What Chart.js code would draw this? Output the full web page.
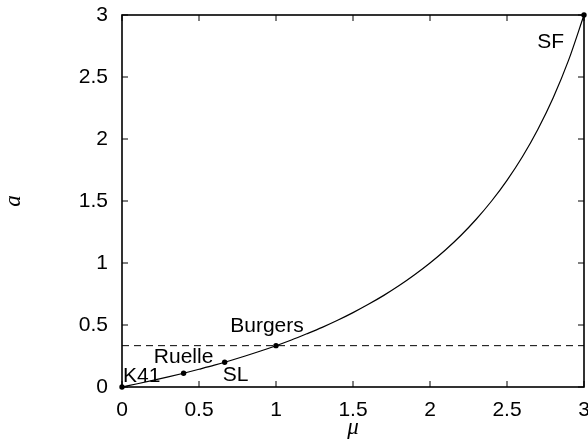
<!DOCTYPE html>
<html>
<head>
<meta charset="utf-8">
<script src="https://cdn.jsdelivr.net/npm/chart.js@4.4.1/dist/chart.umd.min.js"></script>
<style>
  html, body { margin: 0; padding: 0; background: #fff; }
  canvas { display: block; }
</style>
</head>
<body>
<canvas id="c" width="588" height="442"></canvas>
<script>
// Intermittency curve a(mu)
const muValues = [0, 0.1, 0.2, 0.3, 0.4, 0.5, 0.6, 0.7, 0.8, 0.9, 1.0,
                  1.1, 1.2, 1.3, 1.4, 1.5, 1.6, 1.7, 1.8, 1.9, 2.0,
                  2.1, 2.2, 2.3, 2.4, 2.5, 2.6, 2.7, 2.8, 2.9, 3.0];
const aValues = [0, 0.026, 0.053, 0.081, 0.111, 0.143, 0.176, 0.212, 0.25, 0.29, 0.333,
                 0.379, 0.429, 0.481, 0.538, 0.6, 0.667, 0.739, 0.818, 0.905, 1.0,
                 1.105, 1.222, 1.353, 1.5, 1.667, 1.857, 2.077, 2.333, 2.636, 3.0];

// Horizontal reference level (Burgers value)
const refLineMu = [0, 3];
const refLineA = [0.3333, 0.3333];

// Named models on the curve
const modelNames = ['K41', 'Ruelle', 'SL', 'Burgers', 'SF'];
const modelMu = [0, 0.4, 0.6667, 1, 3];
const modelA = [0, 0.1111, 0.2, 0.3333, 3];

// Axis tick labels
const tickValues = [0, 0.5, 1, 1.5, 2, 2.5, 3];
const tickLabels = ['0', '0.5', '1', '1.5', '2', '2.5', '3'];

const LABEL_FONT = '21px "Liberation Sans", Arial, sans-serif';

// Label placement relative to each marked point (pixels)
const labelStyle = {
  'K41':     { dx: 1,   dy: -5,  align: 'left' },
  'Ruelle':  { dx: 0,   dy: -10, align: 'center' },
  'SL':      { dx: -2,  dy: 19,  align: 'left' },
  'Burgers': { dx: -9,  dy: -14, align: 'center' },
  'SF':      { dx: -20, dy: 33,  align: 'right' }
};

const curveData = muValues.map((m, i) => ({ x: m, y: aValues[i] }));
const refData = refLineMu.map((m, i) => ({ x: m, y: refLineA[i] }));
const modelData = modelMu.map((m, i) => ({ x: m, y: modelA[i] }));

// Frame with inward tick marks on all four sides
const framePlugin = {
  id: 'frame',
  afterDatasetsDraw(chart) {
    const { ctx, chartArea: ca, scales } = chart;
    const len = 6;
    ctx.save();
    ctx.strokeStyle = '#000';
    ctx.lineWidth = 1;
    ctx.beginPath();
    tickValues.forEach(v => {
      const x = scales.x.getPixelForValue(v);
      ctx.moveTo(x, ca.bottom); ctx.lineTo(x, ca.bottom - len);
      ctx.moveTo(x, ca.top); ctx.lineTo(x, ca.top + len);
      const y = scales.y.getPixelForValue(v);
      ctx.moveTo(ca.left, y); ctx.lineTo(ca.left + len, y);
      ctx.moveTo(ca.right, y); ctx.lineTo(ca.right - len, y);
    });
    ctx.stroke();
    ctx.lineWidth = 1.6;
    ctx.strokeRect(ca.left, ca.top, ca.right - ca.left, ca.bottom - ca.top);
    ctx.restore();
  }
};

// Model names next to their points
const namePlugin = {
  id: 'names',
  afterDraw(chart) {
    const { ctx, scales } = chart;
    ctx.save();
    ctx.fillStyle = '#000';
    ctx.font = LABEL_FONT;
    ctx.textBaseline = 'alphabetic';
    modelNames.forEach((name, i) => {
      const s = labelStyle[name];
      const px = scales.x.getPixelForValue(modelMu[i]);
      const py = scales.y.getPixelForValue(modelA[i]);
      ctx.textAlign = s.align;
      ctx.fillText(name, px + s.dx, py + s.dy);
    });
    ctx.restore();
  }
};

const tickFont = { family: '"Liberation Sans", Arial, sans-serif', size: 21 };
const titleFont = { family: '"Liberation Serif", "Times New Roman", serif', size: 23, style: 'italic' };

new Chart(document.getElementById('c'), {
  type: 'scatter',
  data: {
    datasets: [
      {
        data: curveData,
        showLine: true,
        borderColor: '#000',
        borderWidth: 1.2,
        pointRadius: 0,
        cubicInterpolationMode: 'monotone',
        clip: false,
        order: 2
      },
      {
        data: refData,
        showLine: true,
        borderColor: '#000',
        borderWidth: 1,
        borderDash: [7, 5],
        pointRadius: 0,
        order: 3
      },
      {
        data: modelData,
        showLine: false,
        pointRadius: 2.7,
        pointBackgroundColor: '#000',
        pointBorderColor: '#000',
        pointBorderWidth: 0,
        clip: false,
        order: 1
      }
    ]
  },
  options: {
    responsive: false,
    devicePixelRatio: 1,
    animation: false,
    layout: { padding: { top: 15, right: 2, left: 0, bottom: 0 } },
    plugins: { legend: { display: false }, tooltip: { enabled: false } },
    scales: {
      x: {
        type: 'linear',
        min: 0, max: 3,
        grid: { display: false, drawTicks: false },
        border: { display: false },
        ticks: {
          stepSize: 0.5,
          color: '#000',
          font: tickFont,
          padding: 11,
          maxRotation: 0,
          callback: (v) => { const i = tickValues.indexOf(v); return i >= 0 ? tickLabels[i] : ''; }
        },
        title: { display: true, text: 'μ', color: '#000', font: titleFont, padding: 0 },
        afterFit(s) { s.height = 55; s.paddingLeft = 0; s.paddingRight = 0; }
      },
      y: {
        type: 'linear',
        min: 0, max: 3,
        grid: { display: false, drawTicks: false },
        border: { display: false },
        ticks: {
          stepSize: 0.5,
          color: '#000',
          font: tickFont,
          padding: 14,
          callback: (v) => { const i = tickValues.indexOf(v); return i >= 0 ? tickLabels[i] : ''; }
        },
        title: { display: true, text: 'a', color: '#000', font: titleFont, padding: 0 },
        afterFit(s) { s.width = 122; s.paddingTop = 0; s.paddingBottom = 0; }
      }
    }
  },
  plugins: [framePlugin, namePlugin]
});
</script>
</body>
</html>
